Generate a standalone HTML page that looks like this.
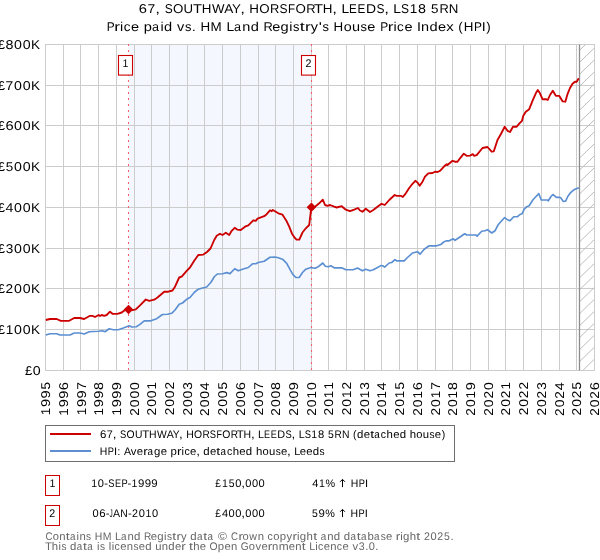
<!DOCTYPE html>
<html><head><meta charset="utf-8"><title>Price paid vs HPI</title>
<style>html,body{margin:0;padding:0;background:#fff;width:600px;height:560px;overflow:hidden;}svg{display:block;position:absolute;left:0;top:0;}</style></head>
<body>
<svg width="600" height="560" viewBox="0 0 600 560" font-family="'Liberation Sans', sans-serif">
<defs><filter id="gs" x="-5%" y="-5%" width="110%" height="110%" color-interpolation-filters="sRGB"><feColorMatrix type="saturate" values="0"/></filter></defs>
<rect width="600" height="560" fill="#ffffff"/>
<rect x="128.5" y="44.5" width="183.0" height="326.0" fill="#f4f8fe"/>
<path d="M45.5 44.5V370.5M63.5 44.5V370.5M80.5 44.5V370.5M98.5 44.5V370.5M116.5 44.5V370.5M134.5 44.5V370.5M151.5 44.5V370.5M169.5 44.5V370.5M187.5 44.5V370.5M204.5 44.5V370.5M222.5 44.5V370.5M240.5 44.5V370.5M258.5 44.5V370.5M275.5 44.5V370.5M293.5 44.5V370.5M311.5 44.5V370.5M328.5 44.5V370.5M346.5 44.5V370.5M364.5 44.5V370.5M381.5 44.5V370.5M399.5 44.5V370.5M417.5 44.5V370.5M435.5 44.5V370.5M452.5 44.5V370.5M470.5 44.5V370.5M488.5 44.5V370.5M505.5 44.5V370.5M523.5 44.5V370.5M541.5 44.5V370.5M559.5 44.5V370.5M576.5 44.5V370.5M594.5 44.5V370.5M45.0 370.5H595.0M45.0 329.5H595.0M45.0 288.5H595.0M45.0 248.5H595.0M45.0 207.5H595.0M45.0 166.5H595.0M45.0 125.5H595.0M45.0 85.5H595.0M45.0 44.5H595.0" stroke="#cccccc" stroke-width="1" fill="none"/>
<clipPath id="hc"><rect x="579.5" y="44.5" width="15.0" height="326.0"/></clipPath>
<path clip-path="url(#hc)" d="M579.5 50.4L594.5 35.9M579.5 62.37L594.5 47.87M579.5 74.34L594.5 59.84M579.5 86.31L594.5 71.81M579.5 98.28L594.5 83.78M579.5 110.25L594.5 95.75M579.5 122.22L594.5 107.72M579.5 134.19L594.5 119.69M579.5 146.16L594.5 131.66M579.5 158.13L594.5 143.63M579.5 170.1L594.5 155.6M579.5 182.07L594.5 167.57M579.5 194.04L594.5 179.54M579.5 206.01L594.5 191.51M579.5 217.98L594.5 203.48M579.5 229.95L594.5 215.45M579.5 241.92L594.5 227.42M579.5 253.89L594.5 239.39M579.5 265.86L594.5 251.36M579.5 277.83000000000004L594.5 263.33000000000004M579.5 289.80000000000007L594.5 275.30000000000007M579.5 301.7700000000001L594.5 287.2700000000001M579.5 313.7400000000001L594.5 299.2400000000001M579.5 325.71000000000015L594.5 311.21000000000015M579.5 337.6800000000002L594.5 323.1800000000002M579.5 349.6500000000002L594.5 335.1500000000002M579.5 361.62000000000023L594.5 347.12000000000023M579.5 373.59000000000026L594.5 359.09000000000026M579.5 385.5600000000003L594.5 371.0600000000003M579.5 397.5300000000003L594.5 383.0300000000003" stroke="#bdbdbd" stroke-width="1" fill="none"/>
<path d="M594.5 44.5V370.5M579.5 44.5H594.5M579.5 370.5H594.5" stroke="#cccccc" stroke-width="1" fill="none"/>
<path d="M579.5 44.5V370.5" stroke="#8c8c8c" stroke-width="1.3" fill="none"/>
<path d="M128.5 44V370.5" stroke="#f4606e" stroke-width="1.1" stroke-dasharray="2 4" fill="none"/>
<path d="M311.5 44V370.5" stroke="#f4606e" stroke-width="1.1" stroke-dasharray="2 4" fill="none"/>
<polyline points="45.8,335 50,333.7 56.7,333.7 60,335 70,335 74.2,333 80,333 84.2,334 89.2,331.7 98.3,331.3 102.5,330.8 105,331.7 109.2,328.8 113.3,329.7 118.3,329.7 123.3,328 129.2,325.8 131.7,327 136.3,326.7 140,324.4 144.2,320.8 150.8,320.8 156.7,318.7 162.5,314.5 167.5,314.2 171.7,313.3 175,310 179.2,304.2 182.5,303 187.5,298.7 190,297.5 194.2,292.5 198.3,289.2 202.5,288 206.7,287 210.8,282.5 214.5,276.5 217.3,274 222.7,273.8 226.7,272.6 230,273.6 234.7,268.7 238.3,270.8 242.5,269.2 248.3,267.5 252.5,263.8 255.8,263.7 258.3,262.5 264.2,261.2 270,257.2 275,257 278.3,257.8 282.5,259.2 286.7,263.3 290.5,270.4 292.8,274.4 295.8,277.5 299.2,277.5 302.5,272.5 305.8,269.2 310.8,267.5 315,268.3 318.3,266.7 322.8,263 325.3,266.2 328.3,266.7 330.8,265.8 334.2,267.8 341.7,267.8 345.8,269.7 353.3,269.7 357.5,268 362.5,270.8 365.8,269.2 370,270.8 373.3,269.7 377.5,267.5 380.8,265.6 382.7,265.8 384.6,267.1 389.2,263 391.7,262.5 395,259.7 396.7,260.8 404.2,260.8 407.5,257.5 412.5,253 417.5,251.7 420,254.2 424.2,249.2 429.2,245.8 436.7,245.8 440.8,244.5 444.2,241.7 446.7,240.8 449.2,240.8 453.3,238.8 455,240.3 460,237 464.7,233.8 466.7,235 475.8,235 477.1,236.1 481.7,231.2 485,230.8 487.5,229.7 491.7,233 495,230.8 498,225 501.7,220.8 504.7,217.5 507,219.5 510,220.8 513.7,216.7 517.5,216.7 520,214.5 522,213.8 524.2,209.2 526.7,206.7 529.2,205.8 533,199.7 536.7,195.8 538.8,193.7 541.3,200 547.5,200 548.3,200.8 550.8,196.7 552.8,194.5 556.5,197.4 559,197.2 560.7,197.7 563.2,201.4 565.5,201.3 567.8,196.5 570.4,192.8 573.8,189.8 576.3,188.8 579,187.8" fill="none" stroke="#5b8fd1" stroke-width="1.65" stroke-linejoin="round" stroke-linecap="butt"/>
<polyline points="45.8,320 50,319 56.7,319 60.8,320.8 69.2,320.8 74.2,318 80,318 84.2,319 90,315.8 92.5,315.8 95,317 98.7,315 100,316 101.7,315 104.2,315.8 106.7,315 110,311.7 112.5,313.8 117.5,313.8 121.7,312.5 125,310 128.5,309.5 132.5,310.2 135.8,309.4 140,305.4 145.8,299.5 149.2,300.8 154.2,299.7 157.5,297.5 164.2,291.7 168.3,291.7 172.5,290.5 175,286.7 179.2,277.5 181.7,276.7 186.7,270.8 190,267.5 194.2,260.8 198.3,255 203.3,254.6 207,252 210.5,248.5 214.2,240 216.7,235.8 220,233.8 222.5,235 225.8,232.8 229.2,235 231.7,230.8 234.7,227.8 237.5,229.7 240.8,230 245,226.7 248.3,225.3 253.3,220.3 255.8,220.8 257.5,218.7 264.2,216.2 266.7,214.2 270,210.3 271.7,211.2 272.8,210 275,211.3 278.3,213.3 282.5,214.7 286.7,221.3 289.2,226.7 292,233.7 294.5,237.5 296.5,239.6 299.3,239.6 302.5,232.5 305.8,228.3 309.2,225 310.8,211.7 311.4,207.2 315,206.7 319.2,203.3 322.8,199.7 325,205 327.5,205.8 330,205 334.2,206.7 336.7,207.5 341.7,206.2 345.8,209.7 350,211.2 354.2,209.7 358,208 360,210.5 362.5,211.7 365.8,208.8 370,212 373.3,210 377.5,206.7 381.5,203.8 384.8,205 389.2,200 394.7,195 396.7,195.8 400.8,195.8 402.8,197 405.8,193.3 409.2,188 412.5,183.8 415.3,180.8 417.5,182.5 419.7,185.8 422.5,181.7 425,176.7 428.3,173.3 432.5,173 435,171.7 437.5,172 440,170.8 444.2,166.3 446.7,164.2 447.5,165 452.5,160.8 455,161.7 457.5,161.7 460,158.3 463.8,153.7 466.7,155.8 470,155.6 472.8,154.2 474.2,155.8 476.7,155.2 482.5,148 487.5,147 491.7,151.7 493.8,151.3 497.5,140 500.8,134.2 504.7,126.7 507.5,130.8 510,132 513,126.7 516.7,126.7 519.2,123.7 522,120.8 523.3,115.8 525.8,111.7 529.2,109.2 532.5,100.8 535.8,93.3 537.8,90 540,93.3 542.5,99.2 545.8,99.2 547.8,100 550,95 552.8,90.8 555.8,95.8 559.2,95.8 562.5,101.3 565.3,101.7 567.5,94.2 570,88 572.5,83.7 575,81.7 576.7,81.7 578.7,78.3" fill="none" stroke="#cc0000" stroke-width="1.85" stroke-linejoin="round" stroke-linecap="butt"/>
<path d="M128.5 304.7L133.3 309.5L128.5 314.3L123.7 309.5Z" fill="#cc0000"/>
<path d="M311.4 202.5L316.2 207.3L311.4 212.10000000000002L306.59999999999997 207.3Z" fill="#cc0000"/>
<rect x="118.5" y="55.5" width="14" height="19.6" fill="#ffffff" stroke="#cc0000" stroke-width="1.1"/>
<g font-size="11.0" fill="#000" text-rendering="geometricPrecision" filter="url(#gs)"><text transform="translate(122.51,66.90) scale(0.961,1)">1</text></g>
<rect x="301.5" y="55.5" width="14" height="19.6" fill="#ffffff" stroke="#cc0000" stroke-width="1.1"/>
<g font-size="11.0" fill="#000" text-rendering="geometricPrecision" filter="url(#gs)"><text transform="translate(305.39,66.90) scale(0.970,1)">2</text></g>
<g font-size="12.75" fill="#000" text-rendering="geometricPrecision" filter="url(#gs)"><text transform="translate(138.83,12.95) scale(1.151,1)">6</text><text transform="translate(147.59,12.95) scale(1.088,1)">7</text><text transform="translate(155.36,12.95) scale(1.352,1)">,</text><text transform="translate(164.65,12.95) scale(0.940,1)">S</text><text transform="translate(172.97,12.95) scale(1.043,1)">O</text><text transform="translate(183.58,12.95) scale(1.037,1)">U</text><text transform="translate(192.90,12.95) scale(1.151,1)">T</text><text transform="translate(201.71,12.95) scale(1.049,1)">H</text><text transform="translate(211.99,12.95) scale(1.040,1)">W</text><text transform="translate(224.24,12.95) scale(1.063,1)">A</text><text transform="translate(232.00,12.95) scale(1.041,1)">Y</text><text transform="translate(240.14,12.95) scale(1.352,1)">,</text><text transform="translate(249.31,12.95) scale(1.049,1)">H</text><text transform="translate(259.33,12.95) scale(1.043,1)">O</text><text transform="translate(270.05,12.95) scale(1.009,1)">R</text><text transform="translate(279.48,12.95) scale(0.940,1)">S</text><text transform="translate(288.05,12.95) scale(0.904,1)">F</text><text transform="translate(295.53,12.95) scale(1.043,1)">O</text><text transform="translate(306.26,12.95) scale(1.009,1)">R</text><text transform="translate(313.99,12.95) scale(1.151,1)">T</text><text transform="translate(322.80,12.95) scale(1.049,1)">H</text><text transform="translate(332.30,12.95) scale(1.352,1)">,</text><text transform="translate(341.43,12.95) scale(1.085,1)">L</text><text transform="translate(349.10,12.95) scale(0.914,1)">E</text><text transform="translate(357.60,12.95) scale(0.914,1)">E</text><text transform="translate(365.91,12.95) scale(1.091,1)">D</text><text transform="translate(376.43,12.95) scale(0.940,1)">S</text><text transform="translate(384.23,12.95) scale(1.352,1)">,</text><text transform="translate(393.36,12.95) scale(1.085,1)">L</text><text transform="translate(401.01,12.95) scale(0.940,1)">S</text><text transform="translate(409.65,12.95) scale(1.062,1)">1</text><text transform="translate(418.06,12.95) scale(1.124,1)">8</text><text transform="translate(431.10,12.95) scale(1.049,1)">5</text><text transform="translate(439.42,12.95) scale(1.009,1)">R</text><text transform="translate(448.73,12.95) scale(1.042,1)">N</text></g>
<g font-size="12.75" fill="#000" text-rendering="geometricPrecision" filter="url(#gs)"><text transform="translate(106.67,30.85) scale(0.933,1)">P</text><text transform="translate(114.28,30.85) scale(1.352,1)">r</text><text transform="translate(120.02,30.85) scale(1.121,1)">i</text><text transform="translate(123.64,30.85) scale(1.058,1)">c</text><text transform="translate(130.99,30.85) scale(1.139,1)">e</text><text transform="translate(143.69,30.85) scale(1.148,1)">p</text><text transform="translate(152.10,30.85) scale(0.988,1)">a</text><text transform="translate(160.48,30.85) scale(1.121,1)">i</text><text transform="translate(164.06,30.85) scale(1.147,1)">d</text><text transform="translate(177.10,30.85) scale(1.138,1)">v</text><text transform="translate(185.08,30.85) scale(1.011,1)">s</text><text transform="translate(191.82,30.85) scale(1.141,1)">.</text><text transform="translate(200.49,30.85) scale(1.049,1)">H</text><text transform="translate(210.60,30.85) scale(1.052,1)">M</text><text transform="translate(226.44,30.85) scale(1.085,1)">L</text><text transform="translate(233.89,30.85) scale(0.988,1)">a</text><text transform="translate(242.25,30.85) scale(1.137,1)">n</text><text transform="translate(250.65,30.85) scale(1.147,1)">d</text><text transform="translate(263.59,30.85) scale(1.009,1)">R</text><text transform="translate(272.20,30.85) scale(1.139,1)">e</text><text transform="translate(280.47,30.85) scale(1.147,1)">g</text><text transform="translate(289.17,30.85) scale(1.121,1)">i</text><text transform="translate(292.99,30.85) scale(1.011,1)">s</text><text transform="translate(299.72,30.85) scale(1.410,1)">t</text><text transform="translate(304.98,30.85) scale(1.352,1)">r</text><text transform="translate(310.80,30.85) scale(1.133,1)">y</text><text transform="translate(318.67,30.85) scale(1.291,1)">&#39;</text><text transform="translate(322.46,30.85) scale(1.011,1)">s</text><text transform="translate(333.59,30.85) scale(1.049,1)">H</text><text transform="translate(343.63,30.85) scale(1.121,1)">o</text><text transform="translate(351.91,30.85) scale(1.137,1)">u</text><text transform="translate(360.61,30.85) scale(1.011,1)">s</text><text transform="translate(367.37,30.85) scale(1.139,1)">e</text><text transform="translate(380.14,30.85) scale(0.933,1)">P</text><text transform="translate(387.75,30.85) scale(1.352,1)">r</text><text transform="translate(393.49,30.85) scale(1.121,1)">i</text><text transform="translate(397.11,30.85) scale(1.058,1)">c</text><text transform="translate(404.46,30.85) scale(1.139,1)">e</text><text transform="translate(416.89,30.85) scale(1.116,1)">I</text><text transform="translate(421.11,30.85) scale(1.137,1)">n</text><text transform="translate(429.50,30.85) scale(1.147,1)">d</text><text transform="translate(438.04,30.85) scale(1.139,1)">e</text><text transform="translate(446.17,30.85) scale(1.170,1)">x</text><text transform="translate(458.24,30.85) scale(1.050,1)">(</text><text transform="translate(463.65,30.85) scale(1.049,1)">H</text><text transform="translate(473.89,30.85) scale(0.933,1)">P</text><text transform="translate(481.66,30.85) scale(1.116,1)">I</text><text transform="translate(486.35,30.85) scale(1.050,1)">)</text></g>
<g font-size="12.75" fill="#000" text-rendering="geometricPrecision" filter="url(#gs)"><text transform="translate(24.98,374.90) scale(1.026,1)">£</text><text transform="translate(32.67,374.90) scale(1.112,1)">0</text></g>
<g font-size="12.75" fill="#000" text-rendering="geometricPrecision" filter="url(#gs)"><text transform="translate(-2.13,333.90) scale(1.026,1)">£</text><text transform="translate(5.67,333.90) scale(1.062,1)">1</text><text transform="translate(14.12,333.90) scale(1.112,1)">0</text><text transform="translate(22.67,333.90) scale(1.112,1)">0</text><text transform="translate(31.10,333.90) scale(1.064,1)">K</text></g>
<g font-size="12.75" fill="#000" text-rendering="geometricPrecision" filter="url(#gs)"><text transform="translate(-2.13,292.90) scale(1.026,1)">£</text><text transform="translate(5.52,292.90) scale(1.072,1)">2</text><text transform="translate(14.12,292.90) scale(1.112,1)">0</text><text transform="translate(22.67,292.90) scale(1.112,1)">0</text><text transform="translate(31.10,292.90) scale(1.064,1)">K</text></g>
<g font-size="12.75" fill="#000" text-rendering="geometricPrecision" filter="url(#gs)"><text transform="translate(-2.13,252.90) scale(1.026,1)">£</text><text transform="translate(5.73,252.90) scale(1.068,1)">3</text><text transform="translate(14.12,252.90) scale(1.112,1)">0</text><text transform="translate(22.67,252.90) scale(1.112,1)">0</text><text transform="translate(31.10,252.90) scale(1.064,1)">K</text></g>
<g font-size="12.75" fill="#000" text-rendering="geometricPrecision" filter="url(#gs)"><text transform="translate(-2.13,211.90) scale(1.026,1)">£</text><text transform="translate(5.56,211.90) scale(1.112,1)">4</text><text transform="translate(14.12,211.90) scale(1.112,1)">0</text><text transform="translate(22.67,211.90) scale(1.112,1)">0</text><text transform="translate(31.10,211.90) scale(1.064,1)">K</text></g>
<g font-size="12.75" fill="#000" text-rendering="geometricPrecision" filter="url(#gs)"><text transform="translate(-2.13,170.90) scale(1.026,1)">£</text><text transform="translate(5.73,170.90) scale(1.049,1)">5</text><text transform="translate(14.12,170.90) scale(1.112,1)">0</text><text transform="translate(22.67,170.90) scale(1.112,1)">0</text><text transform="translate(31.10,170.90) scale(1.064,1)">K</text></g>
<g font-size="12.75" fill="#000" text-rendering="geometricPrecision" filter="url(#gs)"><text transform="translate(-2.13,129.90) scale(1.026,1)">£</text><text transform="translate(5.42,129.90) scale(1.151,1)">6</text><text transform="translate(14.12,129.90) scale(1.112,1)">0</text><text transform="translate(22.67,129.90) scale(1.112,1)">0</text><text transform="translate(31.10,129.90) scale(1.064,1)">K</text></g>
<g font-size="12.75" fill="#000" text-rendering="geometricPrecision" filter="url(#gs)"><text transform="translate(-2.13,89.90) scale(1.026,1)">£</text><text transform="translate(5.62,89.90) scale(1.088,1)">7</text><text transform="translate(14.12,89.90) scale(1.112,1)">0</text><text transform="translate(22.67,89.90) scale(1.112,1)">0</text><text transform="translate(31.10,89.90) scale(1.064,1)">K</text></g>
<g font-size="12.75" fill="#000" text-rendering="geometricPrecision" filter="url(#gs)"><text transform="translate(-2.13,48.90) scale(1.026,1)">£</text><text transform="translate(5.52,48.90) scale(1.124,1)">8</text><text transform="translate(14.12,48.90) scale(1.112,1)">0</text><text transform="translate(22.67,48.90) scale(1.112,1)">0</text><text transform="translate(31.10,48.90) scale(1.064,1)">K</text></g>
<g font-size="12.75" fill="#000" text-rendering="geometricPrecision" filter="url(#gs)"><text transform="translate(50.06,415.31) rotate(-90) scale(1.062,1)">1</text><text transform="translate(50.06,407.04) rotate(-90) scale(1.149,1)">9</text><text transform="translate(50.06,398.48) rotate(-90) scale(1.149,1)">9</text><text transform="translate(50.06,389.58) rotate(-90) scale(1.049,1)">5</text></g>
<g font-size="12.75" fill="#000" text-rendering="geometricPrecision" filter="url(#gs)"><text transform="translate(67.75,415.64) rotate(-90) scale(1.062,1)">1</text><text transform="translate(67.75,407.36) rotate(-90) scale(1.149,1)">9</text><text transform="translate(67.75,398.81) rotate(-90) scale(1.149,1)">9</text><text transform="translate(67.75,390.22) rotate(-90) scale(1.151,1)">6</text></g>
<g font-size="12.75" fill="#000" text-rendering="geometricPrecision" filter="url(#gs)"><text transform="translate(85.50,415.33) rotate(-90) scale(1.062,1)">1</text><text transform="translate(85.50,407.06) rotate(-90) scale(1.149,1)">9</text><text transform="translate(85.50,398.50) rotate(-90) scale(1.149,1)">9</text><text transform="translate(85.50,389.72) rotate(-90) scale(1.088,1)">7</text></g>
<g font-size="12.75" fill="#000" text-rendering="geometricPrecision" filter="url(#gs)"><text transform="translate(103.19,415.56) rotate(-90) scale(1.062,1)">1</text><text transform="translate(103.19,407.29) rotate(-90) scale(1.149,1)">9</text><text transform="translate(103.19,398.73) rotate(-90) scale(1.149,1)">9</text><text transform="translate(103.19,390.05) rotate(-90) scale(1.124,1)">8</text></g>
<g font-size="12.75" fill="#000" text-rendering="geometricPrecision" filter="url(#gs)"><text transform="translate(120.88,415.54) rotate(-90) scale(1.062,1)">1</text><text transform="translate(120.88,407.27) rotate(-90) scale(1.149,1)">9</text><text transform="translate(120.88,398.71) rotate(-90) scale(1.149,1)">9</text><text transform="translate(120.88,390.15) rotate(-90) scale(1.149,1)">9</text></g>
<g font-size="12.75" fill="#000" text-rendering="geometricPrecision" filter="url(#gs)"><text transform="translate(138.58,415.74) rotate(-90) scale(1.072,1)">2</text><text transform="translate(138.58,407.15) rotate(-90) scale(1.112,1)">0</text><text transform="translate(138.58,398.59) rotate(-90) scale(1.112,1)">0</text><text transform="translate(138.58,390.03) rotate(-90) scale(1.112,1)">0</text></g>
<g font-size="12.75" fill="#000" text-rendering="geometricPrecision" filter="url(#gs)"><text transform="translate(156.32,415.39) rotate(-90) scale(1.072,1)">2</text><text transform="translate(156.32,406.80) rotate(-90) scale(1.112,1)">0</text><text transform="translate(156.32,398.24) rotate(-90) scale(1.112,1)">0</text><text transform="translate(156.32,389.57) rotate(-90) scale(1.062,1)">1</text></g>
<g font-size="12.75" fill="#000" text-rendering="geometricPrecision" filter="url(#gs)"><text transform="translate(174.01,415.29) rotate(-90) scale(1.072,1)">2</text><text transform="translate(174.01,406.69) rotate(-90) scale(1.112,1)">0</text><text transform="translate(174.01,398.14) rotate(-90) scale(1.112,1)">0</text><text transform="translate(174.01,389.61) rotate(-90) scale(1.072,1)">2</text></g>
<g font-size="12.75" fill="#000" text-rendering="geometricPrecision" filter="url(#gs)"><text transform="translate(191.70,415.55) rotate(-90) scale(1.072,1)">2</text><text transform="translate(191.70,406.96) rotate(-90) scale(1.112,1)">0</text><text transform="translate(191.70,398.40) rotate(-90) scale(1.112,1)">0</text><text transform="translate(191.70,389.67) rotate(-90) scale(1.068,1)">3</text></g>
<g font-size="12.75" fill="#000" text-rendering="geometricPrecision" filter="url(#gs)"><text transform="translate(209.40,415.88) rotate(-90) scale(1.072,1)">2</text><text transform="translate(209.40,407.28) rotate(-90) scale(1.112,1)">0</text><text transform="translate(209.40,398.73) rotate(-90) scale(1.112,1)">0</text><text transform="translate(209.40,390.17) rotate(-90) scale(1.112,1)">4</text></g>
<g font-size="12.75" fill="#000" text-rendering="geometricPrecision" filter="url(#gs)"><text transform="translate(227.14,415.46) rotate(-90) scale(1.072,1)">2</text><text transform="translate(227.14,406.86) rotate(-90) scale(1.112,1)">0</text><text transform="translate(227.14,398.31) rotate(-90) scale(1.112,1)">0</text><text transform="translate(227.14,389.58) rotate(-90) scale(1.049,1)">5</text></g>
<g font-size="12.75" fill="#000" text-rendering="geometricPrecision" filter="url(#gs)"><text transform="translate(244.83,415.78) rotate(-90) scale(1.072,1)">2</text><text transform="translate(244.83,407.19) rotate(-90) scale(1.112,1)">0</text><text transform="translate(244.83,398.63) rotate(-90) scale(1.112,1)">0</text><text transform="translate(244.83,390.22) rotate(-90) scale(1.151,1)">6</text></g>
<g font-size="12.75" fill="#000" text-rendering="geometricPrecision" filter="url(#gs)"><text transform="translate(262.53,415.48) rotate(-90) scale(1.072,1)">2</text><text transform="translate(262.53,406.89) rotate(-90) scale(1.112,1)">0</text><text transform="translate(262.53,398.33) rotate(-90) scale(1.112,1)">0</text><text transform="translate(262.53,389.72) rotate(-90) scale(1.088,1)">7</text></g>
<g font-size="12.75" fill="#000" text-rendering="geometricPrecision" filter="url(#gs)"><text transform="translate(280.22,415.71) rotate(-90) scale(1.072,1)">2</text><text transform="translate(280.22,407.12) rotate(-90) scale(1.112,1)">0</text><text transform="translate(280.22,398.56) rotate(-90) scale(1.112,1)">0</text><text transform="translate(280.22,390.05) rotate(-90) scale(1.124,1)">8</text></g>
<g font-size="12.75" fill="#000" text-rendering="geometricPrecision" filter="url(#gs)"><text transform="translate(297.96,415.69) rotate(-90) scale(1.072,1)">2</text><text transform="translate(297.96,407.09) rotate(-90) scale(1.112,1)">0</text><text transform="translate(297.96,398.54) rotate(-90) scale(1.112,1)">0</text><text transform="translate(297.96,390.15) rotate(-90) scale(1.149,1)">9</text></g>
<g font-size="12.75" fill="#000" text-rendering="geometricPrecision" filter="url(#gs)"><text transform="translate(315.65,415.74) rotate(-90) scale(1.072,1)">2</text><text transform="translate(315.65,407.15) rotate(-90) scale(1.112,1)">0</text><text transform="translate(315.65,398.48) rotate(-90) scale(1.062,1)">1</text><text transform="translate(315.65,390.03) rotate(-90) scale(1.112,1)">0</text></g>
<g font-size="12.75" fill="#000" text-rendering="geometricPrecision" filter="url(#gs)"><text transform="translate(333.35,415.39) rotate(-90) scale(1.072,1)">2</text><text transform="translate(333.35,406.80) rotate(-90) scale(1.112,1)">0</text><text transform="translate(333.35,398.13) rotate(-90) scale(1.062,1)">1</text><text transform="translate(333.35,389.57) rotate(-90) scale(1.062,1)">1</text></g>
<g font-size="12.75" fill="#000" text-rendering="geometricPrecision" filter="url(#gs)"><text transform="translate(351.04,415.29) rotate(-90) scale(1.072,1)">2</text><text transform="translate(351.04,406.69) rotate(-90) scale(1.112,1)">0</text><text transform="translate(351.04,398.02) rotate(-90) scale(1.062,1)">1</text><text transform="translate(351.04,389.61) rotate(-90) scale(1.072,1)">2</text></g>
<g font-size="12.75" fill="#000" text-rendering="geometricPrecision" filter="url(#gs)"><text transform="translate(368.78,415.55) rotate(-90) scale(1.072,1)">2</text><text transform="translate(368.78,406.96) rotate(-90) scale(1.112,1)">0</text><text transform="translate(368.78,398.29) rotate(-90) scale(1.062,1)">1</text><text transform="translate(368.78,389.67) rotate(-90) scale(1.068,1)">3</text></g>
<g font-size="12.75" fill="#000" text-rendering="geometricPrecision" filter="url(#gs)"><text transform="translate(386.48,415.88) rotate(-90) scale(1.072,1)">2</text><text transform="translate(386.48,407.28) rotate(-90) scale(1.112,1)">0</text><text transform="translate(386.48,398.61) rotate(-90) scale(1.062,1)">1</text><text transform="translate(386.48,390.17) rotate(-90) scale(1.112,1)">4</text></g>
<g font-size="12.75" fill="#000" text-rendering="geometricPrecision" filter="url(#gs)"><text transform="translate(404.17,415.46) rotate(-90) scale(1.072,1)">2</text><text transform="translate(404.17,406.86) rotate(-90) scale(1.112,1)">0</text><text transform="translate(404.17,398.19) rotate(-90) scale(1.062,1)">1</text><text transform="translate(404.17,389.58) rotate(-90) scale(1.049,1)">5</text></g>
<g font-size="12.75" fill="#000" text-rendering="geometricPrecision" filter="url(#gs)"><text transform="translate(421.86,415.78) rotate(-90) scale(1.072,1)">2</text><text transform="translate(421.86,407.19) rotate(-90) scale(1.112,1)">0</text><text transform="translate(421.86,398.52) rotate(-90) scale(1.062,1)">1</text><text transform="translate(421.86,390.22) rotate(-90) scale(1.151,1)">6</text></g>
<g font-size="12.75" fill="#000" text-rendering="geometricPrecision" filter="url(#gs)"><text transform="translate(439.61,415.48) rotate(-90) scale(1.072,1)">2</text><text transform="translate(439.61,406.89) rotate(-90) scale(1.112,1)">0</text><text transform="translate(439.61,398.22) rotate(-90) scale(1.062,1)">1</text><text transform="translate(439.61,389.72) rotate(-90) scale(1.088,1)">7</text></g>
<g font-size="12.75" fill="#000" text-rendering="geometricPrecision" filter="url(#gs)"><text transform="translate(457.30,415.71) rotate(-90) scale(1.072,1)">2</text><text transform="translate(457.30,407.12) rotate(-90) scale(1.112,1)">0</text><text transform="translate(457.30,398.45) rotate(-90) scale(1.062,1)">1</text><text transform="translate(457.30,390.05) rotate(-90) scale(1.124,1)">8</text></g>
<g font-size="12.75" fill="#000" text-rendering="geometricPrecision" filter="url(#gs)"><text transform="translate(474.99,415.69) rotate(-90) scale(1.072,1)">2</text><text transform="translate(474.99,407.09) rotate(-90) scale(1.112,1)">0</text><text transform="translate(474.99,398.42) rotate(-90) scale(1.062,1)">1</text><text transform="translate(474.99,390.15) rotate(-90) scale(1.149,1)">9</text></g>
<g font-size="12.75" fill="#000" text-rendering="geometricPrecision" filter="url(#gs)"><text transform="translate(492.69,415.74) rotate(-90) scale(1.072,1)">2</text><text transform="translate(492.69,407.15) rotate(-90) scale(1.112,1)">0</text><text transform="translate(492.69,398.62) rotate(-90) scale(1.072,1)">2</text><text transform="translate(492.69,390.03) rotate(-90) scale(1.112,1)">0</text></g>
<g font-size="12.75" fill="#000" text-rendering="geometricPrecision" filter="url(#gs)"><text transform="translate(510.43,415.39) rotate(-90) scale(1.072,1)">2</text><text transform="translate(510.43,406.80) rotate(-90) scale(1.112,1)">0</text><text transform="translate(510.43,398.28) rotate(-90) scale(1.072,1)">2</text><text transform="translate(510.43,389.57) rotate(-90) scale(1.062,1)">1</text></g>
<g font-size="12.75" fill="#000" text-rendering="geometricPrecision" filter="url(#gs)"><text transform="translate(528.12,415.29) rotate(-90) scale(1.072,1)">2</text><text transform="translate(528.12,406.69) rotate(-90) scale(1.112,1)">0</text><text transform="translate(528.12,398.17) rotate(-90) scale(1.072,1)">2</text><text transform="translate(528.12,389.61) rotate(-90) scale(1.072,1)">2</text></g>
<g font-size="12.75" fill="#000" text-rendering="geometricPrecision" filter="url(#gs)"><text transform="translate(545.81,415.55) rotate(-90) scale(1.072,1)">2</text><text transform="translate(545.81,406.96) rotate(-90) scale(1.112,1)">0</text><text transform="translate(545.81,398.44) rotate(-90) scale(1.072,1)">2</text><text transform="translate(545.81,389.67) rotate(-90) scale(1.068,1)">3</text></g>
<g font-size="12.75" fill="#000" text-rendering="geometricPrecision" filter="url(#gs)"><text transform="translate(563.51,415.88) rotate(-90) scale(1.072,1)">2</text><text transform="translate(563.51,407.28) rotate(-90) scale(1.112,1)">0</text><text transform="translate(563.51,398.76) rotate(-90) scale(1.072,1)">2</text><text transform="translate(563.51,390.17) rotate(-90) scale(1.112,1)">4</text></g>
<g font-size="12.75" fill="#000" text-rendering="geometricPrecision" filter="url(#gs)"><text transform="translate(581.25,415.46) rotate(-90) scale(1.072,1)">2</text><text transform="translate(581.25,406.86) rotate(-90) scale(1.112,1)">0</text><text transform="translate(581.25,398.34) rotate(-90) scale(1.072,1)">2</text><text transform="translate(581.25,389.58) rotate(-90) scale(1.049,1)">5</text></g>
<g font-size="12.75" fill="#000" text-rendering="geometricPrecision" filter="url(#gs)"><text transform="translate(598.94,415.78) rotate(-90) scale(1.072,1)">2</text><text transform="translate(598.94,407.19) rotate(-90) scale(1.112,1)">0</text><text transform="translate(598.94,398.67) rotate(-90) scale(1.072,1)">2</text><text transform="translate(598.94,390.22) rotate(-90) scale(1.151,1)">6</text></g>
<rect x="45.5" y="425.5" width="409" height="36" fill="#ffffff" stroke="#6e6e6e" stroke-width="1"/>
<path d="M50 434H91" stroke="#cc0000" stroke-width="1.8"/>
<path d="M50 451H91" stroke="#5b8fd1" stroke-width="1.8"/>
<g font-size="11.0" fill="#000" text-rendering="geometricPrecision" filter="url(#gs)"><text transform="translate(99.95,437.70) scale(1.041,1)">6</text><text transform="translate(106.79,437.70) scale(0.984,1)">7</text><text transform="translate(112.85,437.70) scale(1.223,1)">,</text><text transform="translate(120.10,437.70) scale(0.851,1)">S</text><text transform="translate(126.60,437.70) scale(0.944,1)">O</text><text transform="translate(134.88,437.70) scale(0.938,1)">U</text><text transform="translate(142.16,437.70) scale(1.041,1)">T</text><text transform="translate(149.04,437.70) scale(0.950,1)">H</text><text transform="translate(157.06,437.70) scale(0.941,1)">W</text><text transform="translate(166.63,437.70) scale(0.962,1)">A</text><text transform="translate(172.69,437.70) scale(0.942,1)">Y</text><text transform="translate(179.04,437.70) scale(1.223,1)">,</text><text transform="translate(186.20,437.70) scale(0.950,1)">H</text><text transform="translate(194.02,437.70) scale(0.944,1)">O</text><text transform="translate(202.39,437.70) scale(0.913,1)">R</text><text transform="translate(209.75,437.70) scale(0.851,1)">S</text><text transform="translate(216.44,437.70) scale(0.818,1)">F</text><text transform="translate(222.28,437.70) scale(0.944,1)">O</text><text transform="translate(230.66,437.70) scale(0.913,1)">R</text><text transform="translate(236.69,437.70) scale(1.041,1)">T</text><text transform="translate(243.57,437.70) scale(0.950,1)">H</text><text transform="translate(250.98,437.70) scale(1.223,1)">,</text><text transform="translate(258.11,437.70) scale(0.982,1)">L</text><text transform="translate(264.10,437.70) scale(0.827,1)">E</text><text transform="translate(270.73,437.70) scale(0.827,1)">E</text><text transform="translate(277.22,437.70) scale(0.988,1)">D</text><text transform="translate(285.44,437.70) scale(0.851,1)">S</text><text transform="translate(291.53,437.70) scale(1.223,1)">,</text><text transform="translate(298.65,437.70) scale(0.982,1)">L</text><text transform="translate(304.63,437.70) scale(0.851,1)">S</text><text transform="translate(311.37,437.70) scale(0.961,1)">1</text><text transform="translate(317.93,437.70) scale(1.017,1)">8</text><text transform="translate(328.12,437.70) scale(0.950,1)">5</text><text transform="translate(334.61,437.70) scale(0.913,1)">R</text><text transform="translate(341.88,437.70) scale(0.943,1)">N</text><text transform="translate(352.94,437.70) scale(0.951,1)">(</text><text transform="translate(357.09,437.70) scale(1.037,1)">d</text><text transform="translate(363.75,437.70) scale(1.031,1)">e</text><text transform="translate(370.18,437.70) scale(1.276,1)">t</text><text transform="translate(374.34,437.70) scale(0.894,1)">a</text><text transform="translate(380.80,437.70) scale(0.958,1)">c</text><text transform="translate(386.60,437.70) scale(1.036,1)">h</text><text transform="translate(393.19,437.70) scale(1.031,1)">e</text><text transform="translate(399.65,437.70) scale(1.037,1)">d</text><text transform="translate(409.72,437.70) scale(1.036,1)">h</text><text transform="translate(416.32,437.70) scale(1.015,1)">o</text><text transform="translate(422.79,437.70) scale(1.029,1)">u</text><text transform="translate(429.58,437.70) scale(0.915,1)">s</text><text transform="translate(434.86,437.70) scale(1.031,1)">e</text><text transform="translate(441.79,437.70) scale(0.951,1)">)</text></g>
<g font-size="11.0" fill="#000" text-rendering="geometricPrecision" filter="url(#gs)"><text transform="translate(99.87,454.80) scale(0.950,1)">H</text><text transform="translate(107.86,454.80) scale(0.844,1)">P</text><text transform="translate(113.93,454.80) scale(1.010,1)">I</text><text transform="translate(117.22,454.80) scale(1.033,1)">:</text><text transform="translate(123.96,454.80) scale(0.962,1)">A</text><text transform="translate(130.74,454.80) scale(1.030,1)">v</text><text transform="translate(136.78,454.80) scale(1.031,1)">e</text><text transform="translate(143.20,454.80) scale(1.223,1)">r</text><text transform="translate(147.57,454.80) scale(0.894,1)">a</text><text transform="translate(153.99,454.80) scale(1.037,1)">g</text><text transform="translate(160.65,454.80) scale(1.031,1)">e</text><text transform="translate(170.57,454.80) scale(1.038,1)">p</text><text transform="translate(177.08,454.80) scale(1.223,1)">r</text><text transform="translate(181.56,454.80) scale(1.015,1)">i</text><text transform="translate(184.39,454.80) scale(0.958,1)">c</text><text transform="translate(190.12,454.80) scale(1.031,1)">e</text><text transform="translate(196.18,454.80) scale(1.223,1)">,</text><text transform="translate(203.26,454.80) scale(1.037,1)">d</text><text transform="translate(209.92,454.80) scale(1.031,1)">e</text><text transform="translate(216.36,454.80) scale(1.276,1)">t</text><text transform="translate(220.52,454.80) scale(0.894,1)">a</text><text transform="translate(226.97,454.80) scale(0.958,1)">c</text><text transform="translate(232.77,454.80) scale(1.036,1)">h</text><text transform="translate(239.36,454.80) scale(1.031,1)">e</text><text transform="translate(245.83,454.80) scale(1.037,1)">d</text><text transform="translate(255.89,454.80) scale(1.036,1)">h</text><text transform="translate(262.49,454.80) scale(1.015,1)">o</text><text transform="translate(268.96,454.80) scale(1.029,1)">u</text><text transform="translate(275.75,454.80) scale(0.915,1)">s</text><text transform="translate(281.03,454.80) scale(1.031,1)">e</text><text transform="translate(287.08,454.80) scale(1.223,1)">,</text><text transform="translate(294.21,454.80) scale(0.982,1)">L</text><text transform="translate(299.83,454.80) scale(1.031,1)">e</text><text transform="translate(306.29,454.80) scale(1.031,1)">e</text><text transform="translate(312.75,454.80) scale(1.037,1)">d</text><text transform="translate(319.61,454.80) scale(0.915,1)">s</text></g>
<rect x="45.5" y="475.5" width="14" height="20" fill="#ffffff" stroke="#cc0000" stroke-width="1"/>
<g font-size="11.0" fill="#000" text-rendering="geometricPrecision" filter="url(#gs)"><text transform="translate(49.41,486.70) scale(0.961,1)">1</text></g>
<g font-size="11.0" fill="#000" text-rendering="geometricPrecision" filter="url(#gs)"><text transform="translate(91.19,486.70) scale(0.961,1)">1</text><text transform="translate(97.79,486.70) scale(1.006,1)">0</text><text transform="translate(104.22,486.70) scale(1.029,1)">-</text><text transform="translate(108.26,486.70) scale(0.851,1)">S</text><text transform="translate(114.95,486.70) scale(0.827,1)">E</text><text transform="translate(121.56,486.70) scale(0.844,1)">P</text><text transform="translate(127.41,486.70) scale(1.029,1)">-</text><text transform="translate(131.53,486.70) scale(0.961,1)">1</text><text transform="translate(137.99,486.70) scale(1.039,1)">9</text><text transform="translate(144.67,486.70) scale(1.039,1)">9</text><text transform="translate(151.35,486.70) scale(1.039,1)">9</text></g>
<g font-size="11.0" fill="#000" text-rendering="geometricPrecision" filter="url(#gs)"><text transform="translate(215.25,486.70) scale(0.928,1)">£</text><text transform="translate(221.97,486.70) scale(0.961,1)">1</text><text transform="translate(228.69,486.70) scale(0.950,1)">5</text><text transform="translate(235.24,486.70) scale(1.006,1)">0</text><text transform="translate(241.35,486.70) scale(1.223,1)">,</text><text transform="translate(245.26,486.70) scale(1.006,1)">0</text><text transform="translate(251.94,486.70) scale(1.006,1)">0</text><text transform="translate(258.62,486.70) scale(1.006,1)">0</text></g>
<g font-size="11.0" fill="#000" text-rendering="geometricPrecision" filter="url(#gs)"><text transform="translate(312.15,486.70) scale(1.006,1)">4</text><text transform="translate(318.92,486.70) scale(0.961,1)">1</text><text transform="translate(325.44,486.70) scale(0.980,1)">%</text><path d="M342.50 487.10V479.65M340.15 481.75L342.50 479.35L344.85 481.75" stroke="#000" stroke-width="1.00" fill="none" stroke-linejoin="miter"/><text transform="translate(350.87,486.70) scale(0.950,1)">H</text><text transform="translate(358.86,486.70) scale(0.844,1)">P</text><text transform="translate(364.93,486.70) scale(1.010,1)">I</text></g>
<rect x="45.5" y="505.5" width="14" height="20" fill="#ffffff" stroke="#cc0000" stroke-width="1"/>
<g font-size="11.0" fill="#000" text-rendering="geometricPrecision" filter="url(#gs)"><text transform="translate(49.29,516.70) scale(0.970,1)">2</text></g>
<g font-size="11.0" fill="#000" text-rendering="geometricPrecision" filter="url(#gs)"><text transform="translate(92.57,516.70) scale(1.006,1)">0</text><text transform="translate(99.14,516.70) scale(1.041,1)">6</text><text transform="translate(105.68,516.70) scale(1.029,1)">-</text><text transform="translate(109.40,516.70) scale(0.578,1)">J</text><text transform="translate(113.02,516.70) scale(0.962,1)">A</text><text transform="translate(120.32,516.70) scale(0.943,1)">N</text><text transform="translate(128.00,516.70) scale(1.029,1)">-</text><text transform="translate(132.01,516.70) scale(0.970,1)">2</text><text transform="translate(138.72,516.70) scale(1.006,1)">0</text><text transform="translate(145.49,516.70) scale(0.961,1)">1</text><text transform="translate(152.08,516.70) scale(1.006,1)">0</text></g>
<g font-size="11.0" fill="#000" text-rendering="geometricPrecision" filter="url(#gs)"><text transform="translate(215.25,516.70) scale(0.928,1)">£</text><text transform="translate(221.88,516.70) scale(1.006,1)">4</text><text transform="translate(228.56,516.70) scale(1.006,1)">0</text><text transform="translate(235.24,516.70) scale(1.006,1)">0</text><text transform="translate(241.35,516.70) scale(1.223,1)">,</text><text transform="translate(245.26,516.70) scale(1.006,1)">0</text><text transform="translate(251.94,516.70) scale(1.006,1)">0</text><text transform="translate(258.62,516.70) scale(1.006,1)">0</text></g>
<g font-size="11.0" fill="#000" text-rendering="geometricPrecision" filter="url(#gs)"><text transform="translate(311.98,516.70) scale(0.950,1)">5</text><text transform="translate(318.40,516.70) scale(1.039,1)">9</text><text transform="translate(325.15,516.70) scale(0.980,1)">%</text><path d="M342.50 517.10V509.65M340.15 511.75L342.50 509.35L344.85 511.75" stroke="#000" stroke-width="1.00" fill="none" stroke-linejoin="miter"/><text transform="translate(350.57,516.70) scale(0.950,1)">H</text><text transform="translate(358.57,516.70) scale(0.844,1)">P</text><text transform="translate(364.63,516.70) scale(1.010,1)">I</text></g>
<g font-size="11.0" fill="#666666" text-rendering="geometricPrecision" filter="url(#gs)"><text transform="translate(45.39,539.50) scale(0.886,1)">C</text><text transform="translate(52.74,539.50) scale(1.015,1)">o</text><text transform="translate(59.26,539.50) scale(1.029,1)">n</text><text transform="translate(65.78,539.50) scale(1.276,1)">t</text><text transform="translate(69.94,539.50) scale(0.894,1)">a</text><text transform="translate(76.49,539.50) scale(1.015,1)">i</text><text transform="translate(79.38,539.50) scale(1.029,1)">n</text><text transform="translate(86.12,539.50) scale(0.915,1)">s</text><text transform="translate(94.82,539.50) scale(0.950,1)">H</text><text transform="translate(102.71,539.50) scale(0.952,1)">M</text><text transform="translate(115.08,539.50) scale(0.982,1)">L</text><text transform="translate(120.90,539.50) scale(0.894,1)">a</text><text transform="translate(127.42,539.50) scale(1.029,1)">n</text><text transform="translate(133.97,539.50) scale(1.037,1)">d</text><text transform="translate(144.08,539.50) scale(0.913,1)">R</text><text transform="translate(150.80,539.50) scale(1.031,1)">e</text><text transform="translate(157.26,539.50) scale(1.037,1)">g</text><text transform="translate(164.05,539.50) scale(1.015,1)">i</text><text transform="translate(167.03,539.50) scale(0.915,1)">s</text><text transform="translate(172.28,539.50) scale(1.276,1)">t</text><text transform="translate(176.39,539.50) scale(1.223,1)">r</text><text transform="translate(180.93,539.50) scale(1.025,1)">y</text><text transform="translate(190.30,539.50) scale(1.037,1)">d</text><text transform="translate(196.98,539.50) scale(0.894,1)">a</text><text transform="translate(203.37,539.50) scale(1.276,1)">t</text><text transform="translate(207.53,539.50) scale(0.894,1)">a</text><text transform="translate(217.98,539.50) scale(1.101,1)">©</text><text transform="translate(231.12,539.50) scale(0.886,1)">C</text><text transform="translate(238.42,539.50) scale(1.223,1)">r</text><text transform="translate(242.55,539.50) scale(1.015,1)">o</text><text transform="translate(249.32,539.50) scale(0.965,1)">w</text><text transform="translate(257.66,539.50) scale(1.029,1)">n</text><text transform="translate(267.58,539.50) scale(0.958,1)">c</text><text transform="translate(273.33,539.50) scale(1.015,1)">o</text><text transform="translate(279.86,539.50) scale(1.038,1)">p</text><text transform="translate(286.59,539.50) scale(1.025,1)">y</text><text transform="translate(292.58,539.50) scale(1.223,1)">r</text><text transform="translate(297.06,539.50) scale(1.015,1)">i</text><text transform="translate(299.86,539.50) scale(1.037,1)">g</text><text transform="translate(306.58,539.50) scale(1.036,1)">h</text><text transform="translate(313.15,539.50) scale(1.276,1)">t</text><text transform="translate(320.64,539.50) scale(0.894,1)">a</text><text transform="translate(327.17,539.50) scale(1.029,1)">n</text><text transform="translate(333.72,539.50) scale(1.037,1)">d</text><text transform="translate(343.72,539.50) scale(1.037,1)">d</text><text transform="translate(350.40,539.50) scale(0.894,1)">a</text><text transform="translate(356.79,539.50) scale(1.276,1)">t</text><text transform="translate(360.95,539.50) scale(0.894,1)">a</text><text transform="translate(367.49,539.50) scale(1.038,1)">b</text><text transform="translate(374.05,539.50) scale(0.894,1)">a</text><text transform="translate(380.66,539.50) scale(0.915,1)">s</text><text transform="translate(385.94,539.50) scale(1.031,1)">e</text><text transform="translate(395.70,539.50) scale(1.223,1)">r</text><text transform="translate(400.18,539.50) scale(1.015,1)">i</text><text transform="translate(402.97,539.50) scale(1.037,1)">g</text><text transform="translate(409.70,539.50) scale(1.036,1)">h</text><text transform="translate(416.26,539.50) scale(1.276,1)">t</text><text transform="translate(423.88,539.50) scale(0.970,1)">2</text><text transform="translate(430.59,539.50) scale(1.006,1)">0</text><text transform="translate(437.24,539.50) scale(0.970,1)">2</text><text transform="translate(444.08,539.50) scale(0.950,1)">5</text><text transform="translate(450.46,539.50) scale(1.033,1)">.</text></g>
<g font-size="11.0" fill="#666666" text-rendering="geometricPrecision" filter="url(#gs)"><text transform="translate(45.01,549.50) scale(1.037,1)">T</text><text transform="translate(51.85,549.50) scale(1.032,1)">h</text><text transform="translate(58.54,549.50) scale(1.010,1)">i</text><text transform="translate(61.51,549.50) scale(0.911,1)">s</text><text transform="translate(70.09,549.50) scale(1.033,1)">d</text><text transform="translate(76.74,549.50) scale(0.890,1)">a</text><text transform="translate(83.10,549.50) scale(1.270,1)">t</text><text transform="translate(87.24,549.50) scale(0.890,1)">a</text><text transform="translate(97.08,549.50) scale(1.010,1)">i</text><text transform="translate(100.05,549.50) scale(0.911,1)">s</text><text transform="translate(108.75,549.50) scale(1.010,1)">l</text><text transform="translate(111.66,549.50) scale(1.010,1)">i</text><text transform="translate(114.48,549.50) scale(0.954,1)">c</text><text transform="translate(120.19,549.50) scale(1.027,1)">e</text><text transform="translate(126.73,549.50) scale(1.025,1)">n</text><text transform="translate(133.44,549.50) scale(0.911,1)">s</text><text transform="translate(138.70,549.50) scale(1.027,1)">e</text><text transform="translate(145.13,549.50) scale(1.033,1)">d</text><text transform="translate(155.15,549.50) scale(1.025,1)">u</text><text transform="translate(161.82,549.50) scale(1.025,1)">n</text><text transform="translate(168.34,549.50) scale(1.033,1)">d</text><text transform="translate(174.98,549.50) scale(1.027,1)">e</text><text transform="translate(181.37,549.50) scale(1.218,1)">r</text><text transform="translate(189.00,549.50) scale(1.270,1)">t</text><text transform="translate(193.20,549.50) scale(1.032,1)">h</text><text transform="translate(199.76,549.50) scale(1.027,1)">e</text><text transform="translate(209.51,549.50) scale(0.940,1)">O</text><text transform="translate(217.86,549.50) scale(1.034,1)">p</text><text transform="translate(224.38,549.50) scale(1.027,1)">e</text><text transform="translate(230.91,549.50) scale(1.025,1)">n</text><text transform="translate(240.74,549.50) scale(0.927,1)">G</text><text transform="translate(248.87,549.50) scale(1.010,1)">o</text><text transform="translate(255.43,549.50) scale(1.026,1)">v</text><text transform="translate(261.45,549.50) scale(1.027,1)">e</text><text transform="translate(267.84,549.50) scale(1.218,1)">r</text><text transform="translate(272.10,549.50) scale(1.025,1)">n</text><text transform="translate(278.68,549.50) scale(1.083,1)">m</text><text transform="translate(288.80,549.50) scale(1.027,1)">e</text><text transform="translate(295.34,549.50) scale(1.025,1)">n</text><text transform="translate(301.83,549.50) scale(1.270,1)">t</text><text transform="translate(309.33,549.50) scale(0.978,1)">L</text><text transform="translate(315.23,549.50) scale(1.010,1)">i</text><text transform="translate(318.05,549.50) scale(0.954,1)">c</text><text transform="translate(323.76,549.50) scale(1.027,1)">e</text><text transform="translate(330.30,549.50) scale(1.025,1)">n</text><text transform="translate(336.85,549.50) scale(0.954,1)">c</text><text transform="translate(342.57,549.50) scale(1.027,1)">e</text><text transform="translate(352.50,549.50) scale(1.026,1)">v</text><text transform="translate(358.81,549.50) scale(0.962,1)">3</text><text transform="translate(365.15,549.50) scale(1.028,1)">.</text><text transform="translate(368.65,549.50) scale(1.002,1)">0</text><text transform="translate(375.13,549.50) scale(1.028,1)">.</text></g>
</svg>
</body></html>
